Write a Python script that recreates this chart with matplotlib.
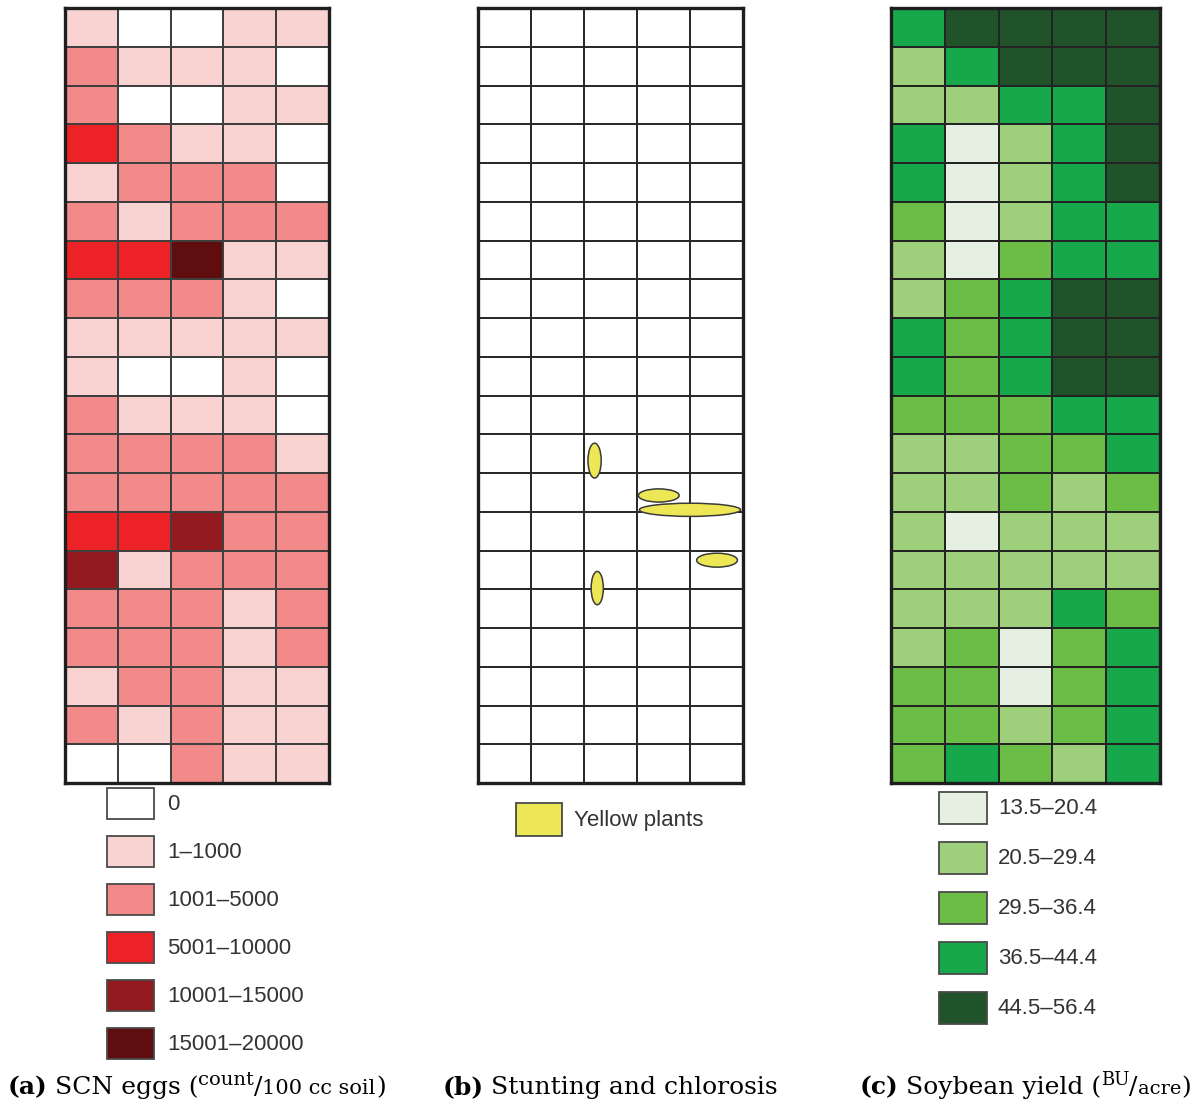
import numpy as np
import matplotlib
matplotlib.use("Agg")
import matplotlib.pyplot as plt
from matplotlib.colors import ListedColormap, BoundaryNorm
from matplotlib.patches import Ellipse, Rectangle

# =====================================================
# =========              Data                 =========
# =====================================================

# (a) SCN eggs, class index per plot (rows top -> bottom, 5 columns)
scn_labels = ["0", "1–1000", "1001–5000", "5001–10000", "10001–15000", "15001–20000"]
scn_colors = ["#ffffff", "#f9d3d2", "#f38a8a", "#ec2227", "#931a1e", "#600d10"]
scn_grid = [
    [1, 0, 0, 1, 1],
    [2, 1, 1, 1, 0],
    [2, 0, 0, 1, 1],
    [3, 2, 1, 1, 0],
    [1, 2, 2, 2, 0],
    [2, 1, 2, 2, 2],
    [3, 3, 5, 1, 1],
    [2, 2, 2, 1, 0],
    [1, 1, 1, 1, 1],
    [1, 0, 0, 1, 0],
    [2, 1, 1, 1, 0],
    [2, 2, 2, 2, 1],
    [2, 2, 2, 2, 2],
    [3, 3, 4, 2, 2],
    [4, 1, 2, 2, 2],
    [2, 2, 2, 1, 2],
    [2, 2, 2, 1, 2],
    [1, 2, 2, 1, 1],
    [2, 1, 2, 1, 1],
    [0, 0, 2, 1, 1],
]

# (b) yellow plant patches: centre column, centre row, width, height (grid units)
yellow_x = [2.20, 3.41, 4.00, 4.51, 2.25]
yellow_y = [11.68, 12.58, 12.95, 14.25, 14.97]
yellow_w = [0.25, 0.77, 1.91, 0.77, 0.23]
yellow_h = [0.90, 0.34, 0.34, 0.36, 0.86]
yellow_label = "Yellow plants"

# (c) soybean yield class per plot
yield_labels = ["13.5–20.4", "20.5–29.4", "29.5–36.4", "36.5–44.4", "44.5–56.4"]
yield_colors = ["#e6f0e2", "#9ecf7a", "#6bbd45", "#16a84a", "#20532a"]
yield_grid = [
    [3, 4, 4, 4, 4],
    [1, 3, 4, 4, 4],
    [1, 1, 3, 3, 4],
    [3, 0, 1, 3, 4],
    [3, 0, 1, 3, 4],
    [2, 0, 1, 3, 3],
    [1, 0, 2, 3, 3],
    [1, 2, 3, 4, 4],
    [3, 2, 3, 4, 4],
    [3, 2, 3, 4, 4],
    [2, 2, 2, 3, 3],
    [1, 1, 2, 2, 3],
    [1, 1, 2, 1, 2],
    [1, 0, 1, 1, 1],
    [1, 1, 1, 1, 1],
    [1, 1, 1, 3, 2],
    [1, 2, 0, 2, 3],
    [2, 2, 0, 2, 3],
    [2, 2, 1, 2, 3],
    [2, 3, 2, 1, 3],
]

# =====================================================
# =========           Layout                  =========
# =====================================================

W, H = 1199, 1108
GRID_TOP, GRID_BOTTOM = 8, 783
EDGE = "#3f3f3f"
TEXT_COLOR = "#333333"
SANS = ["Liberation Sans", "DejaVu Sans"]
SERIF = ["DejaVu Serif"]


def add_grid_axes(fig, left, right):
    return fig.add_axes([left / W, 1 - GRID_BOTTOM / H,
                         (right - left) / W, (GRID_BOTTOM - GRID_TOP) / H])


def draw_class_grid(ax, grid, colors, edge=EDGE):
    data = np.array(grid)
    cmap = ListedColormap(colors)
    norm = BoundaryNorm(np.arange(len(colors) + 1) - 0.5, len(colors))
    ax.pcolormesh(data, cmap=cmap, norm=norm, edgecolors=edge, linewidth=1.2)
    finish_grid(ax, data.shape)


def finish_grid(ax, shape):
    ax.set_xlim(0, shape[1])
    ax.set_ylim(shape[0], 0)
    ax.set_xticks([])
    ax.set_yticks([])
    for sp in ax.spines.values():
        sp.set_linewidth(2.4)
        sp.set_color("#1e1e1e")


def draw_legend(ov, x, y0, step, labels, colors, sw=47, sh=31, tx_gap=13):
    for i, (lab, col) in enumerate(zip(labels, colors)):
        y = y0 + i * step
        ov.add_patch(Rectangle((x, y), sw, sh, facecolor=col,
                               edgecolor="#4a4a4a", linewidth=1.3))
        ov.text(x + sw + tx_gap, y + sh / 2 + 1, lab, fontsize=16, color=TEXT_COLOR,
                family=SANS, va="center", ha="left")


def draw_caption(ov, renderer, x, baseline, runs):
    # runs: (text, size, weight, raise_px, gap_after_px)
    for text, size, weight, rise, gap in runs:
        t = ov.text(x, baseline - rise, text, fontsize=size, fontweight=weight,
                    family=SERIF, va="baseline", ha="left", color="black")
        x += t.get_window_extent(renderer=renderer).width + gap


fig = plt.figure(figsize=(W / 100, H / 100), dpi=100)

# (a)
ax_a = add_grid_axes(fig, 65, 329)
draw_class_grid(ax_a, scn_grid, scn_colors)

# (b)
ax_b = add_grid_axes(fig, 478, 743)
shape_b = np.array(scn_grid).shape
ax_b.pcolormesh(np.zeros(shape_b), cmap=ListedColormap(["#ffffff"]),
                edgecolors="#2a2a2a", linewidth=1.4)
for cx, cy, ew, eh in zip(yellow_x, yellow_y, yellow_w, yellow_h):
    ax_b.add_patch(Ellipse((cx, cy), ew, eh, facecolor="#ede756",
                           edgecolor="#3a3a3a", linewidth=1.1, zorder=3))
finish_grid(ax_b, shape_b)

# (c)
ax_c = add_grid_axes(fig, 891, 1160)
draw_class_grid(ax_c, yield_grid, yield_colors, edge="#232323")

# overlay in pixel coordinates for legends and captions
ov = fig.add_axes([0, 0, 1, 1])
ov.set_xlim(0, W)
ov.set_ylim(H, 0)
ov.axis("off")
ov.patch.set_visible(False)

draw_legend(ov, 107, 788, 48, scn_labels, scn_colors)
draw_legend(ov, 516, 803, 48, [yellow_label], ["#ede756"], sw=46, sh=33, tx_gap=12)
draw_legend(ov, 939, 792, 50, yield_labels, yield_colors, sw=48, sh=32, tx_gap=11)

renderer = fig.canvas.get_renderer()
draw_caption(ov, renderer, 8, 1094, [
    ("(a)", 18, "bold", 0, 7),
    ("SCN eggs (", 18, "normal", 0, 0),
    ("count", 14, "normal", 9, 0),
    ("/", 18, "normal", 0, 0),
    ("100 cc soil", 15, "normal", 0, 0),
    (")", 18, "normal", 0, 0),
])
draw_caption(ov, renderer, 443, 1094, [
    ("(b)", 18, "bold", 0, 7),
    ("Stunting and chlorosis", 18, "normal", 0, 0),
])
draw_caption(ov, renderer, 860, 1094, [
    ("(c)", 18, "bold", 0, 7),
    ("Soybean yield (", 18, "normal", 0, 0),
    ("BU", 13, "normal", 9, 0),
    ("/", 18, "normal", 0, 0),
    ("acre", 14, "normal", 0, 0),
    (")", 18, "normal", 0, 0),
])

fig.savefig("out.png", dpi=100)
plt.close(fig)
